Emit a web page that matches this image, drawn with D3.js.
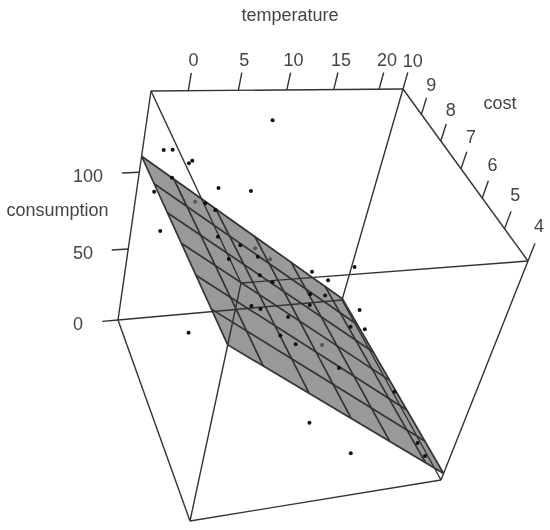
<!DOCTYPE html><html><head><meta charset="utf-8"><script src="https://d3js.org/d3.v7.min.js"></script></head><body style="margin:0;background:#fff">
<svg id="s" width="550" height="530" style="display:block;filter:blur(0.35px)"></svg>
<script>
// ---------- data ----------
const temperatureTicks=[0,5,10,15,20];
const costTicks=[10,9,8,7,6,5,4];
const consumptionTicks=[0,50,100];
const temperatureRange=[-3.62,22.7];
const costRange=[10,4];
const consumptionRange=[0,149];
// fitted plane, consumption at its four corners
const planeColdEdge=[110,114];   // at lowest temperature, for cost 10 and cost 4
const planeHotEdge=[1,5];        // at highest temperature, for cost 10 and cost 4
// observations in front of the plane
const temperature=[9.2,-1.5,-0.6,1.6,1.3,4.9,8.5,-3.5,-0.2,-3.5,3.6,4.8,2.8,6.2,8.4,2.7,7.0,8.8,17.9,20.2,22.5,15.2,18.7,13.9,2.7,3.9,22.7,8.2,20.7,22.6,5.1,6.9,12.8,22.1,5.9,11.2,20.8,20.8,-3.5];
const cost=[10,10,10,10,10,10,10,9,10,8.3,9.9,9.9,8.5,8.9,8.9,7.7,8,8.1,10,10,9.8,8.8,9.4,8.2,6.2,6.3,9.1,6.8,8.6,8.6,5.7,5.7,5.9,6.5,4,4,4.7,4.3,5.9];
const consumption=[130.4,113.5,113.5,106.2,104.6,87.8,84.9,105.8,95.8,94.4,79.9,75.1,84.6,69.8,61.2,85.8,67.1,59.4,24.2,16.6,29.6,33.3,18.1,38.7,86.3,81.6,11,63.2,10,6.8,76.7,69.7,44.9,6.4,57.9,31.8,12.2,12.5,79.6];
// observations seen through the plane
const temperatureBehind=[1.9,8.8,10.8,11.9];
const costBehind=[9.6,9.3,9.3,6.5];
const consumptionBehind=[87,59,50.4,48.1];

// ---------- camera: where the box corners land, and their depth ----------
const corners={E:[118,320],I:[342,300],F:[190,521],G:[441,480],A:[151,91],B:[403,89],H:[241,283],C:[528,261]};
const cube=[["E",0,0,0],["I",1,0,0],["F",0,1,0],["G",1,1,0],["A",0,0,1],["B",1,0,1],["H",0,1,1],["C",1,1,1]];
const edges=["AB","BC","CG","GF","FE","EA","HA","HF","HC","IE","IB","IG"];
const depth=(u,v,w)=>1+.08*u-.13*v-.11*w;
function project(u,v,w){
  let X=0,Y=0,W=0;
  for(const [k,a,b,c] of cube){
    const m=(a?u:1-u)*(b?v:1-v)*(c?w:1-w)*depth(a,b,c);
    X+=m*corners[k][0];Y+=m*corners[k][1];W+=m;
  }
  return [X/W,Y/W];
}
const U=d3.scaleLinear(temperatureRange,[0,1]);
const V=d3.scaleLinear(costRange,[0,1]);
const Z=d3.scaleLinear(consumptionRange,[0,1]);
const P=(t,c,z)=>project(U(t),V(c),Z(z));
const coldZ=d3.scaleLinear(costRange,planeColdEdge);
const hotZ=d3.scaleLinear(costRange,planeHotEdge);
const planeZ=(t,c)=>d3.scaleLinear(temperatureRange,[coldZ(c),hotZ(c)])(t);
const onPlane=(t,c)=>P(t,c,planeZ(t,c));

const svg=d3.select("#s");
const line=d3.line();
const ink="#333333";

// plane
const [t0,t1]=temperatureRange,[c0,c1]=costRange;
svg.append("path").attr("d",line([onPlane(t0,c0),onPlane(t1,c0),onPlane(t1,c1),onPlane(t0,c1)])+"Z").attr("fill","#999999");
const gridLines=[
  ...costTicks.map(c=>[onPlane(t0,c),onPlane(t1,c)]),
  ...[t0,...temperatureTicks,t1].map(t=>[onPlane(t,c0),onPlane(t,c1)])
];
svg.append("g").selectAll("path").data(gridLines).join("path").attr("d",line).attr("fill","none").attr("stroke",ink).attr("stroke-width",1.7);

// box
svg.append("g").selectAll("path").data(edges).join("path").attr("d",d=>line([corners[d[0]],corners[d[1]]])).attr("fill","none").attr("stroke",ink).attr("stroke-width",1.4);

// points
const dots=(ts,cs,zs,fill)=>svg.append("g").selectAll("circle").data(ts.map((t,i)=>P(t,cs[i],zs[i]))).join("circle").attr("cx",d=>d[0]).attr("cy",d=>d[1]).attr("r",2).attr("fill",fill);
dots(temperatureBehind,costBehind,consumptionBehind,"#555");
dots(temperature,cost,consumption,"#111");

// ticks and labels
const tickLine=data=>svg.append("g").selectAll("path").data(data).join("path").attr("d",line).attr("stroke",ink).attr("stroke-width",1.4).attr("fill","none");
const label=(x,y,s,anchor)=>svg.append("text").attr("x",x).attr("y",y).attr("text-anchor",anchor||"middle").attr("dominant-baseline","central").attr("font-family","Liberation Sans").attr("font-size",18).attr("fill","#444").text(s);
tickLine(temperatureTicks.map(t=>[project(U(t),0,1),project(U(t),0,1.07)]));
tickLine(costTicks.map(c=>[project(1,V(c),1),project(1,V(c),1.07)]));
tickLine(consumptionTicks.map(z=>[project(0,0,Z(z)),project(-.065,0,Z(z))]));
temperatureTicks.forEach(t=>{const p=project(U(t),0,1.12);label(p[0],p[1],t);});
costTicks.forEach(c=>{const p=project(1,V(c),1.14);label(p[0]-3*V(c),p[1]+5*(1-V(c)),c);});
consumptionTicks.forEach(z=>{const p=project(0,0,Z(z));label(73,p[1]+4,z,"start");});
label(290,15,"temperature");
label(500,103,"cost");
label(57.5,210,"consumption");
</script></body></html>
